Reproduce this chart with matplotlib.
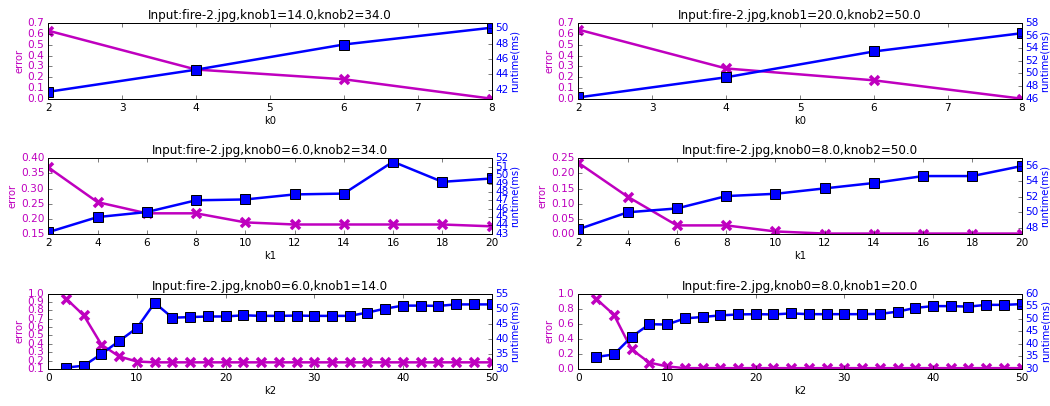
import matplotlib
matplotlib.use("Agg")
import matplotlib.pyplot as plt
from matplotlib.ticker import MultipleLocator

plt.style.use("classic")
plt.rcParams["font.family"] = ["DejaVu Sans"]
plt.rcParams["font.size"] = 10
plt.rcParams["xtick.labelsize"] = 10.5
plt.rcParams["ytick.labelsize"] = 10.5

# knob sweeps
k0 = [2, 4, 6, 8]
k1 = [2, 4, 6, 8, 10, 12, 14, 16, 18, 20]
k2 = list(range(2, 51, 2))

# left column: knob0=6, knob1=14, knob2=34
err_k0_a = [0.63, 0.27, 0.18, 0.0]
rt_k0_a = [41.7, 44.6, 47.9, 50.1]
err_k1_a = [0.37, 0.255, 0.218, 0.218, 0.188, 0.181, 0.181, 0.181, 0.181, 0.175]
rt_k1_a = [43.2, 45.0, 45.6, 47.0, 47.1, 47.7, 47.8, 51.6, 49.2, 49.6]
err_k2_a = [0.94, 0.74, 0.39, 0.25, 0.19, 0.18, 0.18, 0.18, 0.18, 0.18,
            0.18, 0.18, 0.18, 0.18, 0.18, 0.18, 0.18, 0.18, 0.18, 0.18,
            0.18, 0.18, 0.18, 0.18, 0.18]
rt_k2_a = [30.5, 31.1, 35.0, 39.3, 43.6, 51.9, 47.0, 47.2, 47.4, 47.4,
           47.8, 47.6, 47.6, 47.7, 47.6, 47.6, 47.6, 48.7, 50.0, 51.0,
           51.0, 50.9, 51.4, 51.4, 51.4]

# right column: knob0=8, knob1=20, knob2=50
err_k0_b = [0.64, 0.28, 0.17, 0.0]
rt_k0_b = [46.2, 49.4, 53.5, 56.4]
err_k1_b = [0.235, 0.123, 0.028, 0.028, 0.008, 0.001, 0.001, 0.001, 0.001, 0.001]
rt_k1_b = [47.8, 50.0, 50.5, 52.1, 52.4, 53.1, 53.8, 54.7, 54.7, 56.0]
err_k2_b = [0.93, 0.72, 0.26, 0.085, 0.035, 0.012, 0.012, 0.012, 0.012, 0.012,
            0.012, 0.012, 0.012, 0.012, 0.012, 0.012, 0.012, 0.012, 0.012, 0.012,
            0.012, 0.012, 0.012, 0.012, 0.012]
rt_k2_b = [34.8, 35.8, 42.8, 47.8, 47.7, 50.1, 50.7, 51.3, 51.7, 51.8,
           51.7, 52.1, 51.8, 51.8, 51.8, 51.8, 51.9, 52.8, 54.3, 55.0,
           55.0, 54.8, 55.5, 55.5, 55.8]

panels = [
    # (x, err, rt, xlabel, title, xlim, xstep, errlim, errstep, rtlim, rtstep)
    (k0, err_k0_a, rt_k0_a, "k0", "Input:fire-2.jpg,knob1=14.0,knob2=34.0",
     (2, 8), 1, (0, 0.7), 0.1, (40.8, 50.7), 2),
    (k0, err_k0_b, rt_k0_b, "k0", "Input:fire-2.jpg,knob1=20.0,knob2=50.0",
     (2, 8), 1, (0, 0.7), 0.1, (46, 58), 2),
    (k1, err_k1_a, rt_k1_a, "k1", "Input:fire-2.jpg,knob0=6.0,knob2=34.0",
     (2, 20), 2, (0.15, 0.40), 0.05, (43, 52), 1),
    (k1, err_k1_b, rt_k1_b, "k1", "Input:fire-2.jpg,knob0=8.0,knob2=50.0",
     (2, 20), 2, (0, 0.25), 0.05, (47.2, 57.0), 2),
    (k2, err_k2_a, rt_k2_a, "k2", "Input:fire-2.jpg,knob0=6.0,knob1=14.0",
     (0, 50), 10, (0.1, 1.0), 0.1, (30, 55), 5),
    (k2, err_k2_b, rt_k2_b, "k2", "Input:fire-2.jpg,knob0=8.0,knob1=20.0",
     (0, 50), 10, (0, 1.0), 0.2, (30, 60), 5),
]

fig, axes = plt.subplots(3, 2, figsize=(1050 / 72, 406 / 72), dpi=72)
fig.patch.set_facecolor("white")
plt.subplots_adjust(left=0.046, right=0.973, top=0.943, bottom=0.091,
                    wspace=0.196, hspace=0.79)

for ax, (x, err, rt, xl, title, xlim, xstep, elim, estep, rlim, rstep) in zip(axes.flat, panels):
    ax.plot(x, err, color="m", marker="x", markersize=9, markeredgewidth=3.5,
            linewidth=2.5, markeredgecolor="m")
    ax.set_xlim(*xlim)
    ax.set_ylim(*elim)
    ax.xaxis.set_major_locator(MultipleLocator(xstep))
    ax.yaxis.set_major_locator(MultipleLocator(estep))
    ax.set_xlabel(xl, labelpad=3)
    ax.set_ylabel("error", color="m", labelpad=3)
    ax.tick_params(axis="y", colors="m")
    ax.set_title(title, fontsize=12, pad=4)

    # runtime on the twin axis
    ax2 = ax.twinx()
    ax2.plot(x, rt, color="b", marker="s", markersize=10, linewidth=2.5,
             markeredgecolor="k", markeredgewidth=1)
    ax2.set_xlim(*xlim)
    ax2.set_ylim(*rlim)
    ax2.yaxis.set_major_locator(MultipleLocator(rstep))
    ax2.set_ylabel("runtime(ms)", color="b", labelpad=1)
    ax2.tick_params(axis="y", colors="b")
    # keep tick marks black
    ax.tick_params(axis="y", which="both", color="k")
    ax2.tick_params(axis="y", which="both", color="k")

fig.savefig("out.png", dpi=72, facecolor="white")
